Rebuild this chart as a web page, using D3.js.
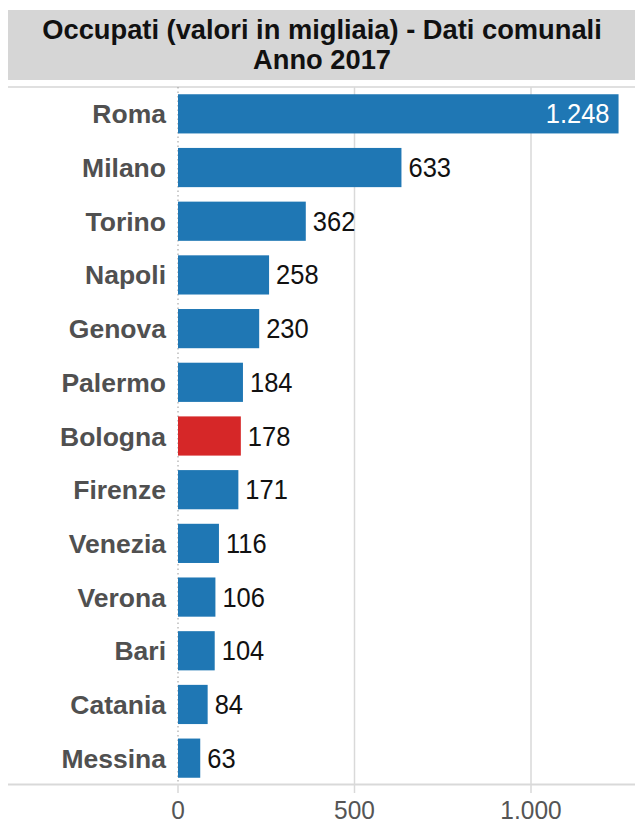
<!DOCTYPE html>
<html>
<head>
<meta charset="utf-8">
<script src="https://cdn.jsdelivr.net/npm/d3@7"></script>
<style>
  html, body { margin: 0; padding: 0; background: #fff; }
  svg { display: block; font-family: "Liberation Sans", Arial, sans-serif; }
</style>
</head>
<body>
<svg id="chart" width="635" height="826"></svg>
<script>
const titleLines = ["Occupati (valori in migliaia) - Dati comunali", "Anno 2017"];
const cities = ["Roma", "Milano", "Torino", "Napoli", "Genova", "Palermo", "Bologna", "Firenze", "Venezia", "Verona", "Bari", "Catania", "Messina"];
const occupati = [1248, 633, 362, 258, 230, 184, 178, 171, 116, 106, 104, 84, 63];
const highlighted = ["Bologna"];
const xTicks = [0, 500, 1000];

const fmt = d3.formatLocale({ decimal: ",", thousands: ".", grouping: [3], currency: ["€", ""] }).format(",d");

const svg = d3.select("#chart");
const W = 635;
const stretch = 1.12;

// Title band
svg.append("rect").attr("x", 8).attr("y", 10).attr("width", W - 8).attr("height", 70).attr("fill", "#d6d6d6");
svg.selectAll("text.title").data(titleLines).join("text")
  .attr("class", "title")
  .attr("transform", (d, i) => `translate(322,${39 + i * 30}) scale(1,1.02)`)
  .attr("text-anchor", "middle")
  .attr("font-size", 27.3).attr("font-weight", "bold").attr("fill", "#111")
  .text(d => d);

const x = d3.scaleLinear().domain([0, 1000]).range([178, 531]);
const y = d3.scaleBand().domain(cities).range([87, 785]).paddingInner(0.27).paddingOuter(0.135);

// top separator
svg.append("line").attr("x1", 8).attr("x2", W).attr("y1", 87).attr("y2", 87).attr("stroke", "#e0e0e0").attr("stroke-width", 2);

// gridlines
svg.selectAll("line.grid").data(xTicks.filter(d => d !== 0)).join("line")
  .attr("class", "grid")
  .attr("x1", d => x(d)).attr("x2", d => x(d))
  .attr("y1", 87).attr("y2", 793)
  .attr("stroke", "#d9d9d9").attr("stroke-width", 1.5);
// zero line (dotted above axis, solid tick below)
svg.append("line").attr("x1", x(0)).attr("x2", x(0)).attr("y1", 87).attr("y2", 785)
  .attr("stroke", "#999").attr("stroke-width", 1).attr("stroke-dasharray", "1.5,3");
svg.append("line").attr("x1", x(0)).attr("x2", x(0)).attr("y1", 785).attr("y2", 793)
  .attr("stroke", "#d9d9d9").attr("stroke-width", 1.5);

// axis line
svg.append("line").attr("x1", 8).attr("x2", W).attr("y1", 784.5).attr("y2", 784.5).attr("stroke", "#d9d9d9").attr("stroke-width", 2);

// bars
svg.selectAll("rect.bar").data(cities).join("rect")
  .attr("class", "bar")
  .attr("x", x(0))
  .attr("y", d => y(d))
  .attr("width", (d, i) => x(occupati[i]) - x(0))
  .attr("height", y.bandwidth())
  .attr("fill", d => highlighted.includes(d) ? "#d62728" : "#1f77b4");

// category labels
svg.selectAll("text.cat").data(cities).join("text")
  .attr("class", "cat")
  .attr("x", 166)
  .attr("y", d => y(d) + y.bandwidth() / 2 + 9.5)
  .attr("text-anchor", "end")
  .attr("font-size", 26.5).attr("font-weight", "bold").attr("fill", "#505050")
  .text(d => d);

// value labels
svg.selectAll("text.val").data(cities).join("text")
  .attr("class", "val")
  .attr("transform", (d, i) => `translate(${i === 0 ? x(occupati[i]) - 9 : x(occupati[i]) + 7},${y(d) + y.bandwidth() / 2 + 9.5}) scale(1,${stretch})`)
  .attr("text-anchor", (d, i) => i === 0 ? "end" : "start")
  .attr("font-size", 25.5).attr("fill", (d, i) => i === 0 ? "#fff" : "#111")
  .text((d, i) => fmt(occupati[i]));

// x tick labels
svg.selectAll("text.tick").data(xTicks).join("text")
  .attr("class", "tick")
  .attr("transform", d => `translate(${x(d)},819) scale(1,1.08)`)
  .attr("text-anchor", "middle")
  .attr("font-size", 24.5).attr("fill", "#555")
  .text(d => fmt(d));
</script>
</body>
</html>
